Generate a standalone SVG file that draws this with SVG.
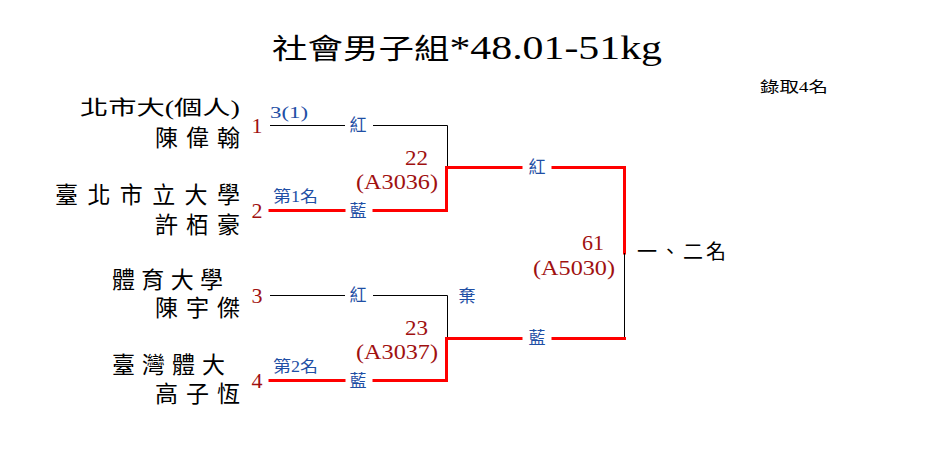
<svg xmlns="http://www.w3.org/2000/svg" width="935" height="465" viewBox="0 0 935 465">
<style>
text{font-family:"Liberation Serif","Noto Sans CJK TC",serif;}
.nm{font-size:23px;fill:#000;}
.sm{font-size:20px;fill:#000;}
.seed{font-size:22px;fill:#a01010;text-anchor:middle;}
.blue{font-size:16px;fill:#1f4fa5;}
.lab{font-size:17px;fill:#1f4fa5;text-anchor:middle;}
.mt{font-size:21px;fill:#a01010;text-anchor:end;}
.thin{fill:none;stroke:#000;stroke-width:1;}
.win{fill:none;stroke:#ff0000;stroke-width:3;stroke-linejoin:miter;stroke-linecap:square;}
</style>
<rect width="935" height="465" fill="#fff"/>
<text id="title" x="272" y="59" font-size="28" textLength="390" lengthAdjust="spacingAndGlyphs">社會男子組<tspan font-size="33">*48.01-51kg</tspan></text>
<text id="quota" x="760" y="92" font-size="15" textLength="68" lengthAdjust="spacingAndGlyphs">錄取4名</text>
<g id="connectors">
<path class="thin" d="M270,125.5 H345 M373,125.5 H447.5 V167"/>
<path class="win" d="M270,210.5 H344 M374,210.5 H446.5 V167.5 H521 M553,167.5 H624.5 V253"/>
<path class="thin" d="M624.5,253 V338.5"/>
<path class="thin" d="M270,295.5 H345 M373,295.5 H447.5 V338"/>
<path class="win" d="M270,380.5 H344 M374,380.5 H446.5 V338.5 H521 M553,338.5 H624.5"/>
</g>
<g id="p1">
<text class="sm" x="80" y="115" textLength="160" lengthAdjust="spacingAndGlyphs">北市大(個人)</text>
<text class="nm" x="155" y="146" textLength="85" lengthAdjust="spacing">陳偉翰</text>
<text class="seed" x="257" y="133">1</text>
<text class="blue" x="270" y="118" font-size="18" textLength="38" lengthAdjust="spacingAndGlyphs">3(1)</text>
<text class="lab" x="358" y="131">紅</text>
</g>
<g id="p2">
<text class="nm" x="55" y="203" textLength="185" lengthAdjust="spacing">臺北市立大學</text>
<text class="nm" x="155" y="233" textLength="85" lengthAdjust="spacing">許栢豪</text>
<text class="seed" x="257" y="218">2</text>
<text class="blue" x="273" y="202" textLength="45" lengthAdjust="spacingAndGlyphs">第1名</text>
<text class="lab" x="358" y="217">藍</text>
</g>
<g id="p3">
<text class="nm" x="112" y="288" textLength="111" lengthAdjust="spacing">體育大學</text>
<text class="nm" x="155" y="316" textLength="85" lengthAdjust="spacing">陳宇傑</text>
<text class="seed" x="257" y="303">3</text>
<text class="lab" x="358" y="301">紅</text>
</g>
<g id="p4">
<text class="nm" x="112" y="373" textLength="113" lengthAdjust="spacing">臺灣體大</text>
<text class="nm" x="155" y="402" textLength="85" lengthAdjust="spacing">高子恆</text>
<text class="seed" x="257" y="388">4</text>
<text class="blue" x="273" y="372" textLength="45" lengthAdjust="spacingAndGlyphs">第2名</text>
<text class="lab" x="358" y="387">藍</text>
</g>
<g id="m22">
<text class="mt" x="428" y="165" textLength="23" lengthAdjust="spacingAndGlyphs">22</text>
<text class="mt" x="438" y="189" textLength="82" lengthAdjust="spacingAndGlyphs">(A3036)</text>
</g>
<g id="m23">
<text class="mt" x="428" y="335" textLength="23" lengthAdjust="spacingAndGlyphs">23</text>
<text class="mt" x="438" y="359" textLength="82" lengthAdjust="spacingAndGlyphs">(A3037)</text>
<text class="lab" x="467" y="302" font-size="19">棄</text>
</g>
<g id="m61">
<text class="lab" x="537" y="173">紅</text>
<text class="lab" x="537" y="344">藍</text>
<text class="mt" x="604" y="250" textLength="22" lengthAdjust="spacingAndGlyphs">61</text>
<text class="mt" x="615" y="275" textLength="82" lengthAdjust="spacingAndGlyphs">(A5030)</text>
<text x="637" y="259" font-size="20" textLength="89" lengthAdjust="spacing">一、二名</text>
</g>
</svg>
